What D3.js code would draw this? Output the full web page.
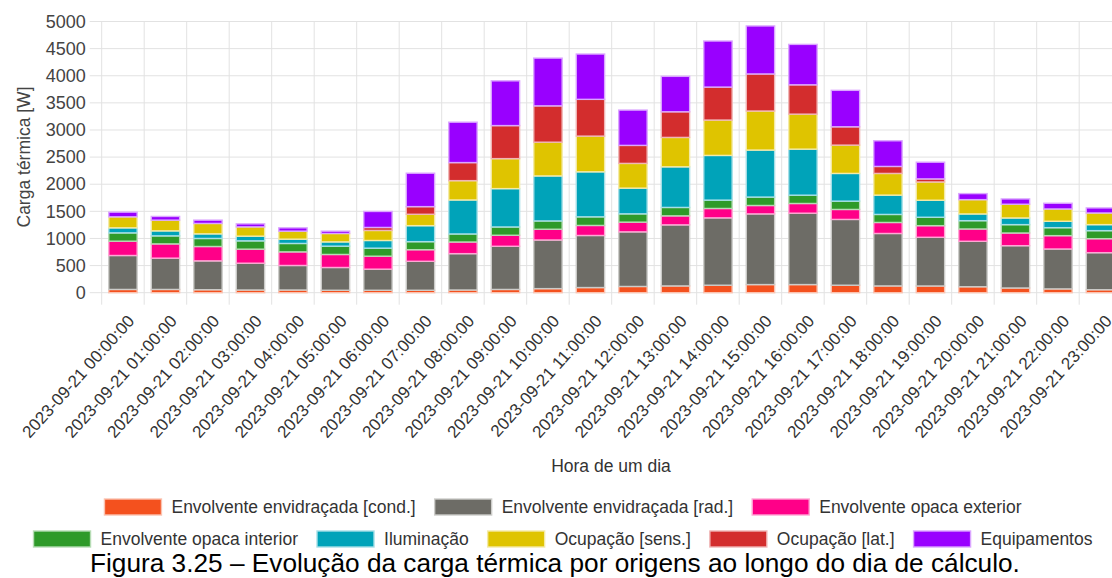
<!DOCTYPE html>
<html><head><meta charset="utf-8">
<script src="https://cdn.jsdelivr.net/npm/d3@7"></script>
<style>
html,body{margin:0;padding:0;background:#fff;overflow:hidden}
text{font-family:"Liberation Sans",Arial,Helvetica,sans-serif}
</style></head>
<body><svg id="chart" width="1112" height="578"></svg>
<script>
// ---- data ----
const hours = ["00","01","02","03","04","05","06","07","08","09","10","11","12","13","14","15","16","17","18","19","20","21","22","23"];
const categories = hours.map(h => "2023-09-21 " + h + ":00:00");
const seriesNames = ["Envolvente envidraçada [cond.]","Envolvente envidraçada [rad.]","Envolvente opaca exterior","Envolvente opaca interior","Iluminação","Ocupação [sens.]","Ocupação [lat.]","Equipamentos"];
const seriesColors = ["#f4511e","#6d6c66","#ff0088","#2e9a29","#00a3b9","#dfc400","#d32d2d","#9900ff"];
const condVals   = [60,60,55,50,50,45,45,45,50,60,75,95,115,125,138,150,150,138,125,124,110,87,70,55];
const radVals    = [626,577,532,494,452,420,389,534,670,796,897,960,1007,1126,1242,1303,1316,1213,967,898,838,780,736,683];
const opExtVals  = [264,263,265,259,251,240,239,214,215,203,198,185,179,166,173,155,179,184,203,214,227,234,246,258];
const opIntVals  = [153,148,148,153,155,153,148,148,148,153,153,159,153,155,154,155,153,153,148,155,153,154,147,148];
const ilumVals   = [93,92,85,86,79,79,142,295,627,707,830,830,474,749,824,867,849,511,356,314,124,123,118,111];
const ocSensVals = [203,198,192,172,148,155,185,210,356,553,622,658,456,542,652,720,645,522,400,337,264,253,227,215];
const ocLatVals  = [0,0,0,0,0,0,55,141,333,609,670,678,332,473,608,683,541,338,129,56,0,0,0,0];
const equipVals  = [86,68,61,55,61,43,295,616,745,825,880,835,651,653,849,885,745,672,473,308,111,98,105,93];
const yTicks = [0,500,1000,1500,2000,2500,3000,3500,4000,4500,5000];
const yTitle = "Carga térmica [W]";
const xTitle = "Hora de um dia";
const caption = "Figura 3.25 – Evolução da carga térmica por origens ao longo do dia de cálculo.";

(function(){
const seriesValues = [condVals,radVals,opExtVals,opIntVals,ilumVals,ocSensVals,ocLatVals,equipVals];
const keys = seriesNames;
const table = categories.map((c,i) => {
  const row = {cat:c};
  keys.forEach((k,j) => row[k] = seriesValues[j][i]);
  return row;
});

// ---- layout ----
const svg = d3.select("#chart");
const plotLeft = 101.7, step = 42.5, plotTop = 21.5, plotBottom = 292.7;
const x = d3.scaleBand().domain(categories).range([plotLeft, plotLeft + step*categories.length])
  .paddingInner(0.332).paddingOuter(0.166);
const y = d3.scaleLinear().domain([0,5000]).range([plotBottom, plotTop]);
const color = d3.scaleOrdinal().domain(keys).range(seriesColors);
const halfGap = x.step()*x.paddingInner()/2;

// gridlines
const grid = svg.append("g");
grid.selectAll("line.h").data(yTicks).join("line")
  .attr("x1", plotLeft-12).attr("x2", 1112)
  .attr("y1", d=>y(d)).attr("y2", d=>y(d))
  .attr("stroke","#e2e2e2").attr("stroke-width",1);
const bounds = categories.map(c => x(c) - halfGap).concat([x(categories[categories.length-1]) + x.bandwidth() + halfGap]);
grid.selectAll("line.v").data(bounds).join("line")
  .attr("x1", d=>d).attr("x2", d=>d)
  .attr("y1", plotTop).attr("y2", plotBottom+12)
  .attr("stroke","#e2e2e2").attr("stroke-width",1);

// y axis labels
const yAxis = d3.axisLeft(y).tickValues(yTicks).tickFormat(d3.format("d")).tickSize(0).tickPadding(0);
const yg = svg.append("g").attr("transform", `translate(${plotLeft-16},0)`).call(yAxis);
yg.select(".domain").remove();
yg.selectAll("text").attr("font-size","18px").attr("fill","#444")
  .attr("font-family","'Liberation Sans',Arial,sans-serif");

// y title
svg.append("text").attr("transform","translate(30,157) rotate(-90)")
  .attr("text-anchor","middle").attr("font-size","17.5px").attr("fill","#444").text(yTitle);

// stacked bars
const stack = d3.stack().keys(keys)(table);
svg.append("g").selectAll("g").data(stack).join("g")
  .attr("fill", d => color(d.key))
  .attr("stroke", d => d3.interpolateRgb(color(d.key), "#ffffff")(0.65))
  .attr("stroke-width", 1.4)
  .selectAll("rect").data(d => d).join("rect")
  .attr("x", d => x(d.data.cat))
  .attr("width", x.bandwidth())
  .attr("y", d => y(d[1]))
  .attr("height", d => Math.max(0, y(d[0]) - y(d[1])));

// x labels
const xAxis = d3.axisBottom(x).tickSize(0).tickPadding(0);
const xg = svg.append("g").attr("transform", `translate(0,${plotBottom})`).call(xAxis);
xg.select(".domain").remove();
xg.selectAll(".tick text")
  .attr("font-size","17px").attr("fill","#333")
  .attr("font-family","'Liberation Sans',Arial,sans-serif")
  .attr("text-anchor","end").attr("dy","0.35em").attr("y",0)
  .attr("transform","translate(8,25) rotate(-48)");

// x title
svg.append("text").attr("x",611).attr("y",472).attr("text-anchor","middle")
  .attr("font-size","17.5px").attr("fill","#333").text(xTitle);

// legend
const rows = [[0,1,2],[3,4,5,6,7]];
const rowY = [507, 539];
const boxW = 57, boxH = 16, boxGap = 10, itemGap = 19, centerX = 563;
const lg = svg.append("g");
rows.forEach((row, ri) => {
  const items = row.map(i => {
    const g = lg.append("g");
    g.append("rect").attr("width",boxW).attr("height",boxH).attr("y",-boxH/2)
      .attr("fill",seriesColors[i])
      .attr("stroke", d3.interpolateRgb(seriesColors[i], "#ffffff")(0.65)).attr("stroke-width",1.4);
    const t = g.append("text").attr("x",boxW+boxGap).attr("dy","0.35em")
      .attr("font-size","17.5px").attr("fill","#333").text(seriesNames[i]);
    return {g, w: boxW+boxGap+t.node().getComputedTextLength()};
  });
  const total = d3.sum(items, d=>d.w) + itemGap*(items.length-1);
  let cx = centerX - total/2;
  items.forEach(it => { it.g.attr("transform",`translate(${cx},${rowY[ri]})`); cx += it.w + itemGap; });
});

// caption
const cap = svg.append("text").attr("x",90).attr("y",572).attr("font-size","24px").attr("fill","#000").text(caption);
const len = cap.node().getComputedTextLength();
cap.attr("font-size", (24*930/len).toFixed(2)+"px");
})();
</script>
</body></html>
